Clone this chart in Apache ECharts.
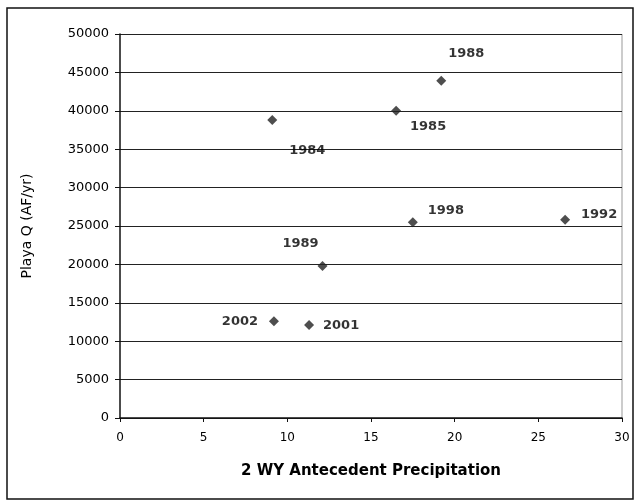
<!DOCTYPE html>
<html>
<head>
<meta charset="utf-8">
<script src="https://cdn.jsdelivr.net/npm/echarts@6/dist/echarts.min.js"></script>
<style>
  html, body { margin: 0; padding: 0; background: #fff; }
  #chart { width: 637px; height: 504px; }
</style>
</head>
<body>
<div id="chart"></div>
<script>
// years shown as point labels
const years = ['1984', '1985', '1988', '1998', '1992', '1989', '2002', '2001'];
// 2 WY antecedent precipitation
const precip = [9.1, 16.5, 19.2, 17.5, 26.6, 12.1, 9.2, 11.3];
// Playa Q (AF/yr)
const playaQ = [38800, 40000, 43900, 25500, 25800, 19800, 12600, 12100];

// label offsets from the point (px)
const labelShift = [[35, 31], [32, 16], [25, -27], [33, -12], [34, -5], [-22, -22], [-34, 0], [32, 1]];

const data = years.map((y, i) => ({
  value: [precip[i], playaQ[i]],
  label: { position: 'inside', offset: labelShift[i] }
}));

const font = 'DejaVu Sans, Verdana, sans-serif';
const chart = echarts.init(document.getElementById('chart'));

chart.setOption({
  backgroundColor: '#fff',
  animation: false,
  grid: { left: 120, right: 15, top: 34, bottom: 86 },
  graphic: [{
    type: 'rect',
    shape: { x: 7, y: 8, width: 626, height: 491 },
    style: { fill: 'none', stroke: '#111', lineWidth: 1.5 }
  }, {
    type: 'line',
    shape: { x1: 622, y1: 34, x2: 622, y2: 418 },
    style: { stroke: '#999', lineWidth: 1 }
  }],
  xAxis: {
    type: 'value', min: 0, max: 30, interval: 5,
    name: '2 WY Antecedent Precipitation',
    nameLocation: 'middle', nameGap: 46,
    nameTextStyle: { fontFamily: font, fontSize: 15, fontWeight: 'bold', color: '#000' },
    axisLine: { lineStyle: { color: '#111', width: 1.5 } },
    axisTick: { show: true, length: 4, lineStyle: { color: '#111' } },
    axisLabel: { fontFamily: font, fontSize: 12, color: '#000', margin: 14 },
    splitLine: { show: false }
  },
  yAxis: {
    type: 'value', min: 0, max: 50000, interval: 5000,
    name: 'Playa Q (AF/yr)',
    nameLocation: 'middle', nameGap: 86, nameRotate: 90,
    nameTextStyle: { fontFamily: font, fontSize: 14, color: '#000' },
    axisLine: { show: true, lineStyle: { color: '#111', width: 1.5 } },
    axisTick: { show: true, length: 5, lineStyle: { color: '#111' } },
    axisLabel: { fontFamily: font, fontSize: 13, color: '#000', margin: 11, formatter: v => String(v) },
    splitLine: { show: true, lineStyle: { color: '#222', width: 1.2 } }
  },
  series: [{
    type: 'scatter',
    symbol: 'diamond',
    symbolSize: 10,
    itemStyle: { color: '#222' },
    data: data,
    label: {
      show: true,
      fontFamily: font,
      fontSize: 13,
      fontWeight: 'bold',
      color: '#000',
      formatter: p => years[p.dataIndex]
    }
  }]
});
</script>
</body>
</html>
